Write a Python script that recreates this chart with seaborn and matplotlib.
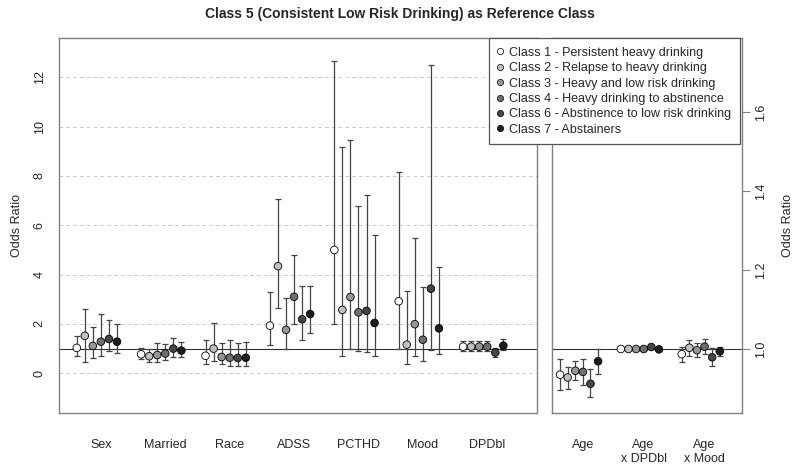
import numpy as np
import pandas as pd
import matplotlib
matplotlib.use("Agg")
import matplotlib.pyplot as plt
from matplotlib.lines import Line2D
import seaborn as sns

# Klassen und Farben
classes = [
    "Class 1 - Persistent heavy drinking",
    "Class 2 - Relapse to heavy drinking",
    "Class 3 - Heavy and low risk drinking",
    "Class 4 - Heavy drinking to abstinence",
    "Class 6 - Abstinence to low risk drinking",
    "Class 7 - Abstainers",
]
colors = ["#ffffff", "#c0c0c0", "#969696", "#6e6e6e", "#464646", "#1e1e1e"]

main_vars = ["Sex", "Married", "Race", "ADSS", "PCTHD", "Mood", "DPDbl"]
age_vars = ["Age", "Age\nx DPDbl", "Age\nx Mood"]

# Odds Ratios (Zeilen = Klassen, Spalten = Variablen)
main_or = [
    [1.03, 0.77, 0.71, 1.93, 5.00, 2.92, 1.08],
    [1.52, 0.69, 1.00, 4.34, 2.57, 1.16, 1.08],
    [1.11, 0.74, 0.66, 1.76, 3.09, 1.99, 1.08],
    [1.28, 0.80, 0.63, 3.10, 2.47, 1.36, 1.08],
    [1.39, 1.00, 0.62, 2.19, 2.53, 3.43, 0.84],
    [1.28, 0.92, 0.63, 2.40, 2.04, 1.82, 1.12],
]
main_lo = [
    [0.71, 0.57, 0.36, 1.13, 1.99, 1.00, 0.89],
    [0.47, 0.47, 0.49, 2.66, 0.71, 0.38, 0.92],
    [0.63, 0.45, 0.36, 0.97, 1.00, 0.71, 0.91],
    [0.69, 0.53, 0.30, 1.99, 0.90, 0.51, 0.89],
    [0.90, 0.65, 0.30, 1.35, 0.88, 0.94, 0.67],
    [0.81, 0.65, 0.30, 1.62, 0.71, 0.77, 0.94],
]
main_hi = [
    [1.50, 1.01, 1.36, 3.30, 12.65, 8.16, 1.30],
    [2.62, 0.97, 2.03, 7.05, 9.16, 3.32, 1.30],
    [1.86, 1.22, 1.22, 3.04, 9.44, 5.47, 1.31],
    [2.39, 1.18, 1.36, 4.81, 6.77, 3.50, 1.31],
    [2.15, 1.44, 1.22, 3.53, 7.22, 12.51, 1.01],
    [2.01, 1.26, 1.26, 3.53, 5.59, 4.31, 1.38],
]

age_or = [
    [0.935, 1.000, 0.987],
    [0.928, 1.000, 1.003],
    [0.945, 1.000, 0.997],
    [0.942, 1.000, 1.006],
    [0.912, 1.005, 0.979],
    [0.969, 0.999, 0.994],
]
age_lo = [
    [0.896, 0.998, 0.966],
    [0.900, 0.998, 0.983],
    [0.922, 0.998, 0.979],
    [0.908, 0.998, 0.987],
    [0.878, 1.003, 0.957],
    [0.936, 0.997, 0.981],
]
age_hi = [
    [0.975, 1.002, 1.006],
    [0.955, 1.002, 1.024],
    [0.970, 1.002, 1.015],
    [0.975, 1.002, 1.025],
    [0.949, 1.007, 1.003],
    [1.001, 1.001, 1.006],
]


def long_df(names, or_, lo, hi):
    rows = []
    for c, cls in enumerate(classes):
        for v, name in enumerate(names):
            rows.append({"cls": cls, "ci": c, "var": name,
                         "x": v + (c - 2.5) * 0.125 - 0.06,
                         "or": or_[c][v], "lo": lo[c][v], "hi": hi[c][v]})
    return pd.DataFrame(rows)


df_main = long_df(main_vars, main_or, main_lo, main_hi)
df_age = long_df(age_vars, age_or, age_lo, age_hi)

sns.set_style("white")
plt.rcParams["font.family"] = ["Liberation Sans", "DejaVu Sans"]

fig = plt.figure(figsize=(8, 4.68), dpi=100)
ax1 = fig.add_axes([59 / 800, 55 / 468, 478 / 800, 375 / 468])
ax2 = fig.add_axes([552 / 800, 55 / 468, 190 / 800, 375 / 468])

palette = dict(zip(classes, colors))

for ax, df in [(ax1, df_main), (ax2, df_age)]:
    ax.axhline(1, color="#333333", lw=0.8, zorder=1)
    for c, cls in enumerate(classes):
        d = df[df["ci"] == c]
        ax.errorbar(d["x"], d["or"], yerr=[d["or"] - d["lo"], d["hi"] - d["or"]],
                    fmt="none", ecolor="#444444", elinewidth=0.9, capsize=2,
                    capthick=0.9, zorder=2)
    sns.scatterplot(data=df, x="x", y="or", hue="cls", palette=palette,
                    edgecolor="black", linewidth=0.6, s=30, legend=False,
                    zorder=3, ax=ax)
    for sp in ax.spines.values():
        sp.set_color("#808080")
        sp.set_linewidth(1)
    ax.set_xlabel("")
    ax.tick_params(axis="x", length=0, pad=19, labelsize=9)
    ax.tick_params(axis="y", length=6, width=0.8, color="#808080", labelsize=9)

# linkes Panel
for g in range(0, 13, 2):
    ax1.axhline(g, color="#cccccc", lw=0.7, ls=(0, (4, 3)), zorder=0)
ax1.set_xlim(-0.648, 6.775)
ax1.set_ylim(-1.61, 13.59)
ax1.set_xticks(range(len(main_vars)))
ax1.set_xticklabels(main_vars)
ax1.set_yticks(range(0, 13, 2))
ax1.set_yticklabels([str(t) for t in range(0, 13, 2)], rotation=90, va="center")
ax1.set_ylabel("Odds Ratio", fontsize=9, labelpad=8)

# rechtes Panel
ax2.set_xlim(-0.505, 2.618)
ax2.set_ylim(0.838, 1.787)
ax2.set_xticks(range(len(age_vars)))
ax2.set_xticklabels(age_vars)
ax2.yaxis.tick_right()
ax2.yaxis.set_label_position("right")
ax2.set_yticks([1.0, 1.2, 1.4, 1.6])
ax2.set_yticklabels(["1.0", "1.2", "1.4", "1.6"], rotation=90, va="center")
ax2.set_ylabel("Odds Ratio", fontsize=9, rotation=90, labelpad=11)

handles = [Line2D([0], [0], marker="o", ls="none", markerfacecolor=col,
                  markeredgecolor="black", markeredgewidth=0.5, markersize=4.5)
           for col in colors]
leg = fig.legend(handles, classes, loc="upper right",
                 bbox_to_anchor=(740 / 800, 1 - 38 / 468), borderaxespad=0,
                 fontsize=9, frameon=True, fancybox=False, framealpha=1,
                 edgecolor="#555555", handlelength=0.5, handletextpad=0.45,
                 borderpad=0.7, labelspacing=0.27)
leg.get_frame().set_linewidth(0.9)

fig.suptitle("Class 5 (Consistent Low Risk Drinking) as Reference Class",
             fontsize=10, fontweight="bold", y=0.985)

plt.savefig("out.png", dpi=100)
